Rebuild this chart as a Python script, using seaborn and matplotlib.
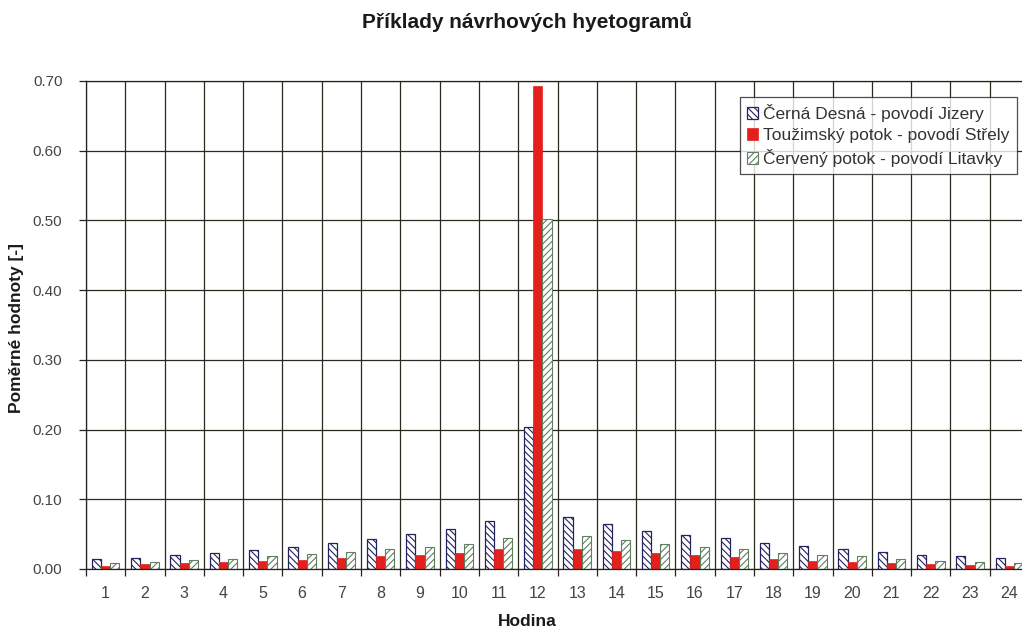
import numpy as np
import pandas as pd
import matplotlib
matplotlib.use("Agg")
import matplotlib.pyplot as plt
import seaborn as sns
from matplotlib.patches import Patch

hours = list(range(1, 25))
series_names = ["Černá Desná - povodí Jizery",
                "Toužimský potok - povodí Střely",
                "Červený potok - povodí Litavky"]
cerna_desna = [0.014, 0.016, 0.020, 0.023, 0.027, 0.031, 0.038, 0.043, 0.050, 0.058, 0.069, 0.204,
               0.074, 0.064, 0.055, 0.049, 0.044, 0.038, 0.033, 0.029, 0.024, 0.020, 0.018, 0.016]
touzimsky = [0.005, 0.007, 0.009, 0.010, 0.011, 0.013, 0.016, 0.018, 0.020, 0.023, 0.028, 0.693,
             0.028, 0.026, 0.023, 0.020, 0.017, 0.014, 0.012, 0.010, 0.008, 0.007, 0.006, 0.005]
cerveny = [0.008, 0.010, 0.013, 0.015, 0.018, 0.021, 0.024, 0.028, 0.031, 0.036, 0.044, 0.502,
           0.047, 0.041, 0.036, 0.031, 0.028, 0.023, 0.020, 0.018, 0.014, 0.012, 0.010, 0.009]
yticks = [0.0, 0.1, 0.2, 0.3, 0.4, 0.5, 0.6, 0.7]

df = pd.DataFrame({
    "Hodina": [str(h) for h in hours] * 3,
    "value": cerna_desna + touzimsky + cerveny,
    "series": [series_names[0]] * 24 + [series_names[1]] * 24 + [series_names[2]] * 24,
})

sns.set_theme(style="white")
plt.rcParams['font.family'] = ['Liberation Sans', 'DejaVu Sans']
plt.rcParams['hatch.linewidth'] = 0.8

fig = plt.figure(figsize=(10.22, 6.28), dpi=100)
W, H = 1022, 628
left, right, top, bottom = 86, 1029, 81, 569
ax = fig.add_axes([left / W, 1 - bottom / H, (right - left) / W, (bottom - top) / H])

palette = {series_names[0]: "white", series_names[1]: "#e3201b", series_names[2]: "white"}
sns.barplot(data=df, x="Hodina", y="value", hue="series", hue_order=series_names,
            order=[str(h) for h in hours], palette=palette, width=0.7, ax=ax,
            legend=False, saturation=1)

styles = [
    dict(face="white", edge="#23235e", hatch="\\\\\\\\\\", hcol="#3a3a8a", lw=0.9),
    dict(face="#e3201b", edge="#e3201b", hatch=None, hcol=None, lw=0.5),
    dict(face="white", edge="#5f7f5f", hatch="/////", hcol="#8fc49a", lw=0.8),
]
for cont, st in zip(ax.containers, styles):
    for p in cont:
        p.set_facecolor(st["face"])
        p.set_linewidth(st["lw"])
        p.set_edgecolor(st["edge"])
        if st["hatch"]:
            p.set_hatch(st["hatch"])
            if hasattr(p, "set_hatchcolor"):
                p.set_hatchcolor(st["hcol"])

ax.set_xlim(-0.5, 23.5)
ax.set_ylim(0, 0.70)
ax.set_yticks(yticks)
ax.set_yticklabels([f"{v:.2f}" for v in yticks])
ax.set_xticks(range(24))
ax.set_xticks(np.arange(-0.5, 24, 1), minor=True)
ax.tick_params(axis="x", which="major", length=0, pad=12, labelsize=11.5, labelcolor="#444444")
ax.tick_params(axis="x", which="minor", length=5, width=0.9, color="#222222", direction="out", bottom=True)
ax.tick_params(axis="y", which="major", length=5, width=0.9, color="#222222", direction="out",
               left=True, pad=12, labelsize=11, labelcolor="#444444")
ax.grid(False)
ax.xaxis.grid(True, which="minor", color="#2a2a1f", linewidth=0.9)
ax.yaxis.grid(True, which="major", color="#2a2a1f", linewidth=0.9)
ax.set_axisbelow(True)
for s in ax.spines.values():
    s.set_color("#222222")
    s.set_linewidth(0.9)

ax.set_xlabel("Hodina", fontsize=12.5, fontweight="bold", color="#1a1a1a", va="center", ha="center")
ax.xaxis.set_label_coords((527 - left) / (right - left), -(621 - bottom) / (bottom - top))
ax.set_ylabel("Poměrné hodnoty [-]", fontsize=12.5, fontweight="bold", color="#1a1a1a",
              va="center", ha="center")
ax.yaxis.set_label_coords(-(left - 17) / (right - left), (bottom - 328) / (bottom - top))

fig.text(527 / W, 1 - 22 / H, "Příklady návrhových hyetogramů", ha="center", va="center",
         fontsize=15, fontweight="bold", color="#1a1a1a")

handles = []
for st, name in zip(styles, series_names):
    h = Patch(facecolor=st["face"], edgecolor=st["edge"], hatch=st["hatch"], linewidth=st["lw"], label=name)
    handles.append(h)
leg = ax.legend(handles=handles, loc="upper left", bbox_to_anchor=(740 / W, 1 - 97 / H),
                bbox_transform=fig.transFigure, fontsize=12.5, frameon=True, fancybox=False,
                handlelength=0.65, handleheight=0.65, handletextpad=0.3, borderpad=0.4,
                labelspacing=0.35, borderaxespad=0)
leg.get_frame().set_edgecolor("#222222")
leg.get_frame().set_linewidth(0.9)
for t in leg.get_texts():
    t.set_color("#333333")

fig.savefig("out.png", dpi=100)
